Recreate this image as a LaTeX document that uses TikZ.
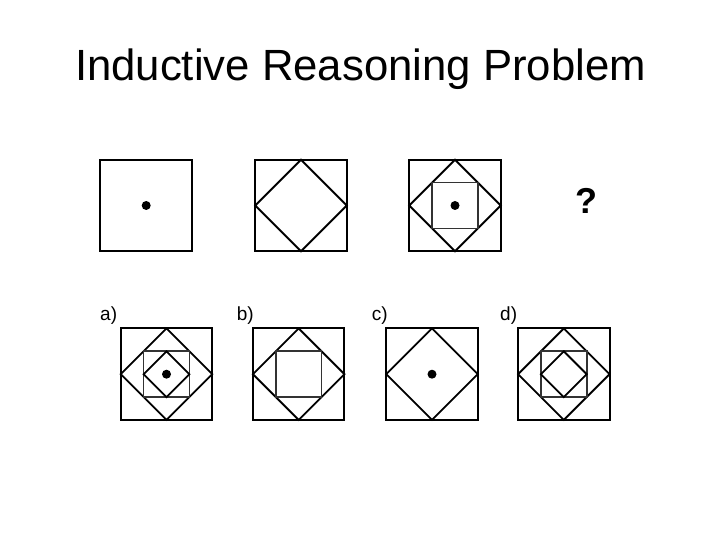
\documentclass[tikz,border=0pt]{standalone}
\usepackage{fontspec}
\setmainfont{Liberation Sans}
\usetikzlibrary{positioning}

\begin{document}
\begin{tikzpicture}[x=1pt, y=1pt,
    frame/.style={line width=2pt},
    rhomb/.style={line width=1.8pt, line join=miter},
    inner/.style={line width=1.6pt, draw=black!80},
    choice/.style={anchor=base west, inner sep=0pt, font=\fontsize{19}{22}\selectfont},
    outer/.pic={\draw[frame] (-45.75,-45.75) rectangle (45.75,45.75);},
    diamond/.pic={\draw[rhomb] (0,45.75) -- (45.75,0) -- (0,-45.75) -- (-45.75,0) -- cycle;},
    square/.pic={\draw[inner] (-22.9,-22.9) rectangle (22.9,22.9);},
    smalldiamond/.pic={\draw[rhomb] (0,22.9) -- (22.9,0) -- (0,-22.9) -- (-22.9,0) -- cycle;},
    dot/.pic={\fill (0,0) circle (4.5);}]
    \useasboundingbox (0,0) rectangle (720,540);

    % Title
    \node[font=\fontsize{43.7}{50}\selectfont, anchor=base] (title) at (360.5,459) {Inductive Reasoning Problem};

    % Sequence
    \coordinate (s1) at (146.2,334.5);
    \coordinate (s2) at (301,334.5);
    \coordinate (s3) at (455,334.5);
    \pic at (s1) {outer};
    \pic at (s1) {dot};
    \pic at (s2) {outer};
    \pic at (s2) {diamond};
    \pic at (s3) {outer};
    \pic at (s3) {diamond};
    \pic at (s3) {square};
    \pic at (s3) {dot};
    \node[font=\fontsize{36}{42}\selectfont\bfseries, anchor=base] (query) at (586.5,326) {?};

    % Choices
    \coordinate (ca) at (166.5,165.8);
    \coordinate (cb) at (298.7,165.8);
    \coordinate (cc) at (432,165.8);
    \coordinate (cd) at (563.8,165.8);
    \node[choice] (la) at (100,219) {a)};
    \node[choice] (lb) at (236.7,219) {b)};
    \node[choice] (lc) at (371.7,219) {c)};
    \node[choice] (ld) at (500,219) {d)};
    \pic at (ca) {outer};
    \pic at (ca) {diamond};
    \pic at (ca) {square};
    \pic at (ca) {smalldiamond};
    \pic at (ca) {dot};
    \pic at (cb) {outer};
    \pic at (cb) {diamond};
    \pic at (cb) {square};
    \pic at (cc) {outer};
    \pic at (cc) {diamond};
    \pic at (cc) {dot};
    \pic at (cd) {outer};
    \pic at (cd) {diamond};
    \pic at (cd) {square};
    \pic at (cd) {smalldiamond};
\end{tikzpicture}
\end{document}
